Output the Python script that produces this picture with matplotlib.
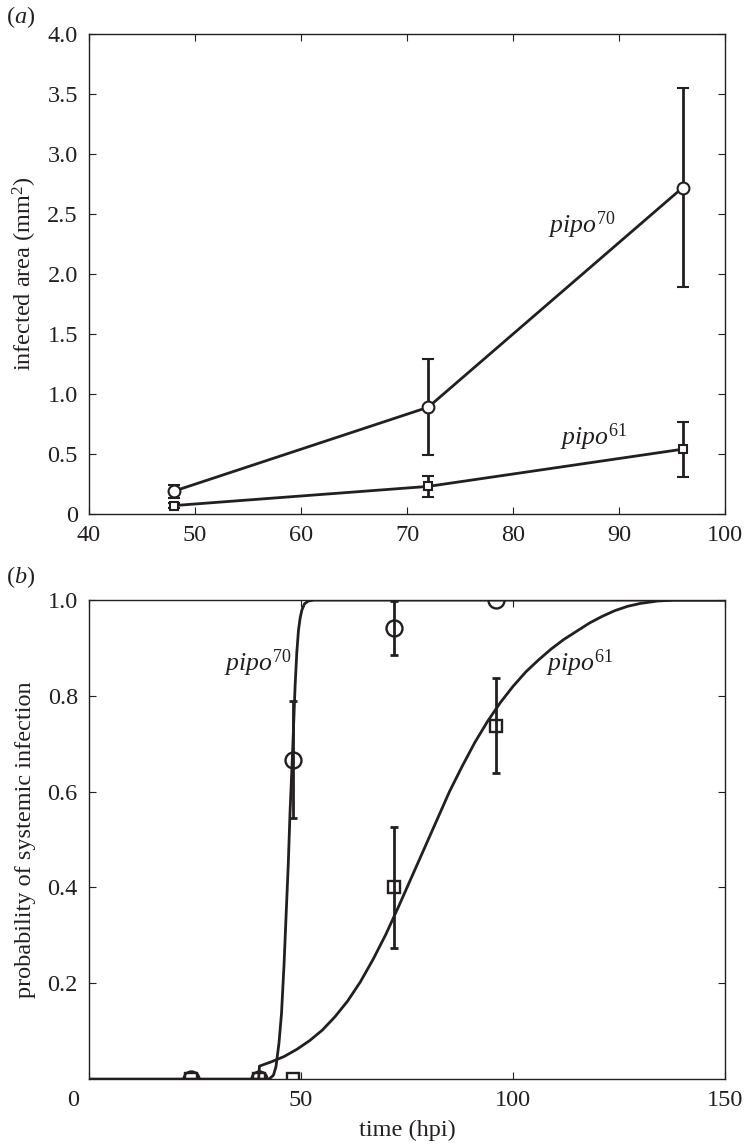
import numpy as np
import matplotlib
matplotlib.use("Agg")
import matplotlib.pyplot as plt

plt.rcParams['font.family'] = ['Liberation Serif', 'DejaVu Serif']
plt.rcParams['mathtext.fontset'] = 'custom'
plt.rcParams['mathtext.rm'] = 'Liberation Serif'
plt.rcParams['mathtext.it'] = 'Liberation Serif:italic'

# panel (a): infected area
hpi_a = [48, 72, 96]
area70 = [0.19, 0.89, 2.72]
area70_err = [0.055, 0.40, 0.83]
area61 = [0.07, 0.23, 0.54]
area61_err = [0.02, 0.09, 0.23]

# panel (b): probability of systemic infection
hpi_b = [24, 40, 48, 72, 96]
prob70 = [0, 0, 0.667, 0.942, 1.0]
prob70_err = [0, 0, 0.122, 0.057, 0]
prob61 = [0, 0, 0, 0.40, 0.738]
prob61_err = [0, 0, 0, 0.127, 0.10]

# fitted curves
fit70_t = [0, 42.5, 43.5, 44.1, 44.8, 45.4, 46.0, 46.5, 47.0, 47.4, 48.0, 48.6,
           49.0, 49.4, 49.8, 50.2, 50.8, 51.7, 53.0, 150]
fit70_p = [0, 0, 0.008, 0.026, 0.075, 0.137, 0.24, 0.346, 0.45, 0.555, 0.68, 0.82,
           0.89, 0.937, 0.963, 0.979, 0.992, 0.998, 1.0, 1.0]
fit61_t = [40, 40.2, 43, 46, 49, 52, 55, 58, 61, 64, 67, 70, 73, 76, 79, 82, 85,
           88, 91, 94, 97, 100, 103, 106, 109, 112, 115, 118, 121, 124, 127,
           130, 134, 138, 143, 150]
fit61_p = [0, 0.027, 0.036, 0.047, 0.062, 0.08, 0.102, 0.13, 0.163, 0.203, 0.25,
           0.302, 0.36, 0.42, 0.48, 0.54, 0.6, 0.653, 0.703, 0.747, 0.786, 0.82,
           0.85, 0.875, 0.898, 0.918, 0.935, 0.952, 0.966, 0.978, 0.987, 0.993,
           0.998, 1.0, 1.0, 1.0]

fs = 17.5
lw = 2.0
col = '#231f20'

fig = plt.figure(figsize=(7.44, 11.45), dpi=100)
ax1 = fig.add_axes([0.1196, 0.5511, 0.855, 0.4192])
ax2 = fig.add_axes([0.1196, 0.0576, 0.855, 0.4183])

for ax in (ax1, ax2):
    ax.tick_params(direction='in', top=True, right=True, length=5, width=0.8,
                   labelsize=fs, colors=col)
    ax.tick_params(axis='x', pad=8)
    ax.tick_params(axis='y', pad=8)
    for s in ax.spines.values():
        s.set_linewidth(1.0)
        s.set_color(col)

# (a)
ax1.errorbar(hpi_a, area70, yerr=area70_err, color=col, lw=lw, marker='o',
             ms=8.5, mfc='white', mew=1.5, capsize=4, elinewidth=lw, capthick=lw)
ax1.errorbar(hpi_a, area61, yerr=area61_err, color=col, lw=lw, marker='s',
             ms=6, mfc='white', mew=1.5, capsize=4, elinewidth=lw, capthick=lw)
ax1.set_xlim(40, 100)
ax1.set_ylim(0, 4.0)
ax1.set_xticks(np.arange(40, 101, 10))
ax1.set_yticks(np.arange(0, 4.01, 0.5))
ax1.set_yticklabels(['0'] + ['%.1f' % v for v in np.arange(0.5, 4.01, 0.5)])
ax1.set_ylabel('infected area (mm$^{2}$)', fontsize=fs, labelpad=6, color=col)
ax1.text(86.5, 2.41, r'$pipo^{\mathrm{70}}$', fontsize=fs + 1, ha='center', va='center', color=col)
ax1.text(87.6, 0.64, r'$pipo^{\mathrm{61}}$', fontsize=fs + 1, ha='center', va='center', color=col)
fig.text(0.008, 0.985, '($a$)', fontsize=fs, va='center', color=col)

# (b)
ax2.plot(fit70_t, fit70_p, color=col, lw=lw)
ax2.plot(fit61_t, fit61_p, color=col, lw=lw)
e70 = np.array(prob70_err) > 0
e61 = np.array(prob61_err) > 0
ax2.errorbar(np.array(hpi_b)[e70], np.array(prob70)[e70], yerr=np.array(prob70_err)[e70],
             fmt='none', ecolor=col, elinewidth=lw, capsize=3, capthick=lw)
ax2.errorbar(np.array(hpi_b)[e61], np.array(prob61)[e61], yerr=np.array(prob61_err)[e61],
             fmt='none', ecolor=col, elinewidth=lw, capsize=3, capthick=lw)
ax2.plot(hpi_b, prob70, ls='none', marker='o', ms=11.5, mfc='none', mec=col, mew=1.7)
ax2.plot(hpi_b, prob61, ls='none', marker='s', ms=9, mfc='none', mec=col, mew=1.7)
ax2.set_xlim(0, 150)
ax2.set_ylim(0, 1.0)
ax2.set_xticks([0, 50, 100, 150])
ax2.set_xticklabels(['', '50', '100', '150'])
ax2.set_yticks([0.2, 0.4, 0.6, 0.8, 1.0])
ax2.set_yticklabels(['0.2', '0.4', '0.6', '0.8', '1.0'])
ax2.text(-0.025, -0.045, '0', transform=ax2.transAxes, fontsize=fs, ha='center', va='center', color=col)
ax2.set_xlabel('time (hpi)', fontsize=fs, labelpad=6, color=col)
ax2.set_ylabel('probability of systemic infection', fontsize=fs, labelpad=8, color=col)
ax2.text(39.9, 0.868, r'$pipo^{\mathrm{70}}$', fontsize=fs + 1, ha='center', va='center', color=col)
ax2.text(115.8, 0.868, r'$pipo^{\mathrm{61}}$', fontsize=fs + 1, ha='center', va='center', color=col)
fig.text(0.008, 0.496, '($b$)', fontsize=fs, va='center', color=col)

fig.savefig('out.png', dpi=100)
